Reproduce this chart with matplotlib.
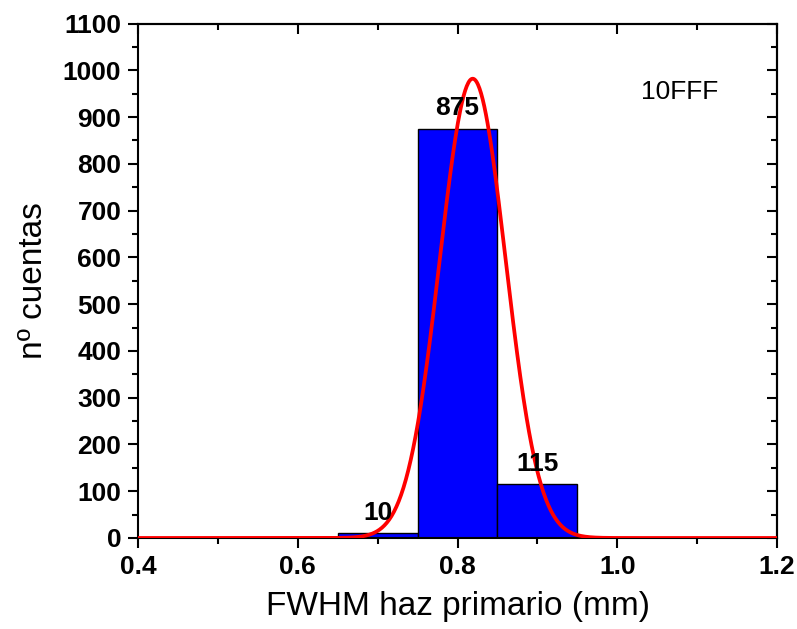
import matplotlib
matplotlib.use("Agg")
import matplotlib.pyplot as plt
import numpy as np

# histogram data
bin_left = [0.65, 0.75, 0.85]
bin_width = 0.1
counts = [10, 875, 115]

# gaussian fit parameters
fit_center = 0.819
fit_sigma = 0.0412
fit_amp = 982.0
fit_xrange = (0.4, 1.2)

sample_label = "10FFF"

plt.rcParams['font.family'] = ['Liberation Sans', 'DejaVu Sans']

fig = plt.figure(figsize=(7.97, 6.29), dpi=100)
ax = fig.add_axes([0.1731, 0.1447, 0.8019, 0.8179])

ax.bar(bin_left, counts, width=bin_width, align='edge', color='#0000FF',
       edgecolor='black', linewidth=1.0, zorder=2)

xs = np.linspace(fit_xrange[0], fit_xrange[1], 800)
ax.plot(xs, fit_amp * np.exp(-(xs - fit_center) ** 2 / (2 * fit_sigma ** 2)),
        color='#FF0000', lw=2.7, zorder=3)

for left, c in zip(bin_left, counts):
    ax.annotate(str(c), (left + bin_width / 2, c), xytext=(0, 6), textcoords='offset points',
                ha='center', va='bottom', fontsize=19, fontweight='bold', zorder=4)

ax.text(1.078, 953, sample_label, ha='center', va='center', fontsize=19)

ax.set_xlim(0.4, 1.2)
ax.set_ylim(0, 1100)
ax.set_xticks(np.arange(0.4, 1.21, 0.2))
ax.set_xticks(np.arange(0.5, 1.2, 0.2), minor=True)
ax.set_yticks(np.arange(0, 1101, 100))
ax.set_yticks(np.arange(50, 1100, 100), minor=True)
ax.xaxis.set_major_formatter(matplotlib.ticker.FormatStrFormatter('%.1f'))

ax.tick_params(which='major', direction='out', length=7, width=1.5, labelsize=19, pad=5)
ax.tick_params(which='minor', direction='out', length=4, width=1.5)
for lab in ax.get_xticklabels() + ax.get_yticklabels():
    lab.set_fontweight('bold')

# inward ticks on the top and right, no labels
top = ax.secondary_xaxis('top')
top.set_xticks(np.arange(0.4, 1.21, 0.2))
top.set_xticks(np.arange(0.5, 1.2, 0.2), minor=True)
top.tick_params(which='major', direction='in', length=7, width=1.5, labeltop=False)
top.tick_params(which='minor', direction='in', length=4, width=1.5)
right = ax.secondary_yaxis('right')
right.set_yticks(np.arange(0, 1101, 100))
right.set_yticks(np.arange(50, 1100, 100), minor=True)
right.tick_params(which='major', direction='in', length=7, width=1.5, labelright=False)
right.tick_params(which='minor', direction='in', length=4, width=1.5)

for sp in list(ax.spines.values()) + [top.spines['top'], right.spines['right']]:
    sp.set_linewidth(1.5)

ax.set_xlabel("FWHM haz primario (mm)", fontsize=24, labelpad=9)
ax.set_ylabel("nº cuentas", fontsize=24, labelpad=10)

fig.savefig("out.png", dpi=100)
